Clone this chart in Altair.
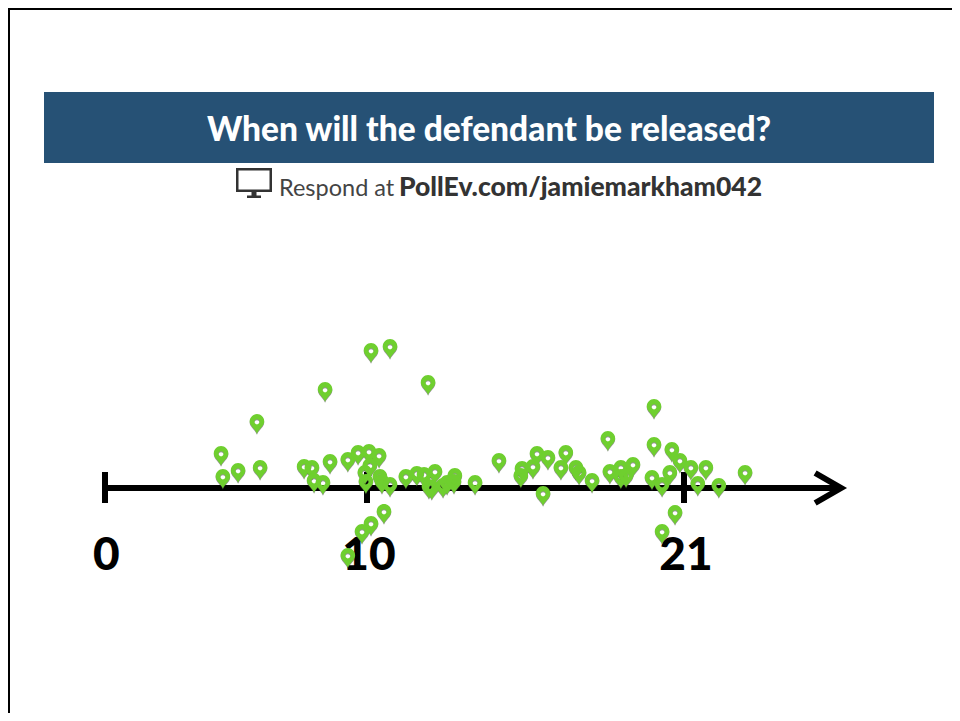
import altair as alt
import pandas as pd

# Pin positions: time along the axis, height of the pin tip above the axis line
days = [10.14, 10.80, 12.12, 8.40, 5.80, 4.43, 4.50, 5.08, 5.92, 7.60, 7.90, 7.98, 8.32, 8.59,
        9.27, 9.66, 10.07, 10.42, 10.10, 9.92, 9.96, 10.45, 10.52, 10.80, 11.35, 11.73, 11.98,
        12.36, 12.15, 12.25, 12.78, 12.64, 13.05, 13.02, 13.75, 10.59, 10.14, 9.81, 9.27,
        14.58, 15.38, 15.34, 15.76, 15.90, 16.28, 16.90, 16.73, 17.25, 17.36, 17.81, 16.11,
        18.36, 18.43, 18.81, 18.81, 18.99, 19.23, 19.96, 19.96, 20.58, 20.86, 21.24, 21.76,
        23.12, 19.89, 20.24, 20.51, 21.48, 22.21, 20.69, 20.24]
heights = [127, 131, 95, 88, 56, 24, 1, 7, 10, 11, 10, -3, -5, 16,
           18, 25, 26, 22, 12, 5, -4, 1, -4, -7, 1, 4, 3,
           6, -9, -10, -5, -8, 2, -4, -5, -34, -46, -54, -78,
           17, 9, 2, 11, 24, 20, 25, 10, 10, 5, -3, -16,
           39, 6, 10, 1, 2, 13, 71, 33, 28, 17, 10, 10,
           5, 0, -7, 5, -6, -8, -35, -54]

tick_days = [0, 10, 21]
tick_labels = ["0", "10", "21"]
label_days = [0.05, 10.07, 21.07]
arrow_days = [25.55, 26.45, 25.55]
arrow_heights = [15, 0, -15]

TITLE = "When will the defendant be released?"
RESPOND = "Respond at"
URL = "PollEv.com/jamiemarkham042"

PIN = ("M0,1.5 C-2,-3.5 -6.5,-5.5 -6.5,-9.5 A6.5,6.5 0 1 1 6.5,-9.5 C6.5,-5.5 2,-3.5 0,1.5 Z "
       "M0,-11.4 A2.3,2.3 0 1 0 0,-6.8 A2.3,2.3 0 1 0 0,-11.4 Z")
MONITOR = ("M-18,-15 L18,-15 L18,9 L-18,9 Z M-15.5,-12.5 L-15.5,6.5 L15.5,6.5 L15.5,-12.5 Z "
           "M-2.5,9 L2.5,9 L2.5,12.5 L7,12.5 L7,15 L-7,15 L-7,12.5 L-2.5,12.5 Z")

xs = alt.Scale(domain=[0, 10, 21], range=[97, 359, 676], nice=False, zero=False)
ys = alt.Scale(domain=[0, 480], range=[480, 0], nice=False, zero=False)
X = lambda f: alt.X(f, type="quantitative", scale=xs, axis=None)
Y = lambda f: alt.Y(f, type="quantitative", scale=ys, axis=None)

pins = pd.DataFrame({"day": days, "height": heights})
pins["shadow"] = pins["height"] - 1
ticks = pd.DataFrame({"day": tick_days, "top": [16] * 3, "bottom": [-15] * 3})
labels = pd.DataFrame({"day": label_days, "label": tick_labels, "v": [-68] * 3})
shaft = pd.DataFrame({"a": [0], "b": [26.3], "v": [0]})
head = pd.DataFrame({"day": arrow_days, "height": arrow_heights, "o": [0, 1, 2]})
one = pd.DataFrame({"k": [0]})

left_border = alt.Chart(one).mark_rule(color="#000", strokeWidth=2).encode(
    x=alt.value(1), y=alt.value(0), y2=alt.value(705))
top_border = alt.Chart(one).mark_rule(color="#000", strokeWidth=2).encode(
    y=alt.value(1), x=alt.value(0), x2=alt.value(944))
banner = alt.Chart(one).mark_rect(color="#265175").encode(
    x=alt.value(36), x2=alt.value(926), y=alt.value(84), y2=alt.value(155))
title = alt.Chart(pd.DataFrame({"t": [TITLE]})).mark_text(
    font="Lato", fontWeight=900, fontSize=33.5, color="#fff", align="center", baseline="middle"
).encode(x=alt.value(481), y=alt.value(123), text="t:N")
monitor = alt.Chart(one).mark_point(
    shape=MONITOR, size=4, filled=True, color="#333", opacity=1
).encode(x=alt.value(246), y=alt.value(175))
respond = alt.Chart(pd.DataFrame({"t": [RESPOND]})).mark_text(
    font="Lato", fontSize=23.5, color="#444", align="left", baseline="middle"
).encode(x=alt.value(271), y=alt.value(181), text="t:N")
url = alt.Chart(pd.DataFrame({"t": [URL]})).mark_text(
    font="Lato", fontWeight=900, fontSize=26.5, color="#333", align="left", baseline="middle"
).encode(x=alt.value(391), y=alt.value(180), text="t:N")

shaft_l = alt.Chart(shaft).mark_rule(color="#000", strokeWidth=6).encode(
    x=X("a"), x2="b:Q", y=Y("v"))
tick_l = alt.Chart(ticks).mark_rule(color="#000", strokeWidth=6).encode(
    x=X("day"), y=Y("top"), y2="bottom:Q")
head_l = alt.Chart(head).mark_line(color="#000", strokeWidth=6, strokeJoin="miter").encode(
    x=X("day"), y=Y("height"), order="o:Q")
label_l = alt.Chart(labels).mark_text(
    font="Lato", fontWeight=900, fontSize=46, color="#000", align="center", baseline="middle"
).encode(x=X("day"), y=Y("v"), text="label:N")
shadow_l = alt.Chart(pins).mark_point(
    shape=PIN, size=5, filled=True, color="#3a3a3a", opacity=0.55
).encode(x=X("day"), y=Y("shadow"))
pin_l = alt.Chart(pins).mark_point(
    shape=PIN, size=5, filled=True, color="#6fcf2f", opacity=1
).encode(x=X("day"), y=Y("height"))

chart = alt.layer(
    left_border, top_border, banner, title, monitor, respond, url,
    shaft_l, tick_l, head_l, label_l, shadow_l, pin_l
).properties(
    width=944, height=705, padding=0, background="#ffffff",
    autosize=alt.AutoSizeParams(type="none")
).configure_view(stroke=None)

chart.save("out.html", embed_options={"renderer": "svg", "actions": False})
